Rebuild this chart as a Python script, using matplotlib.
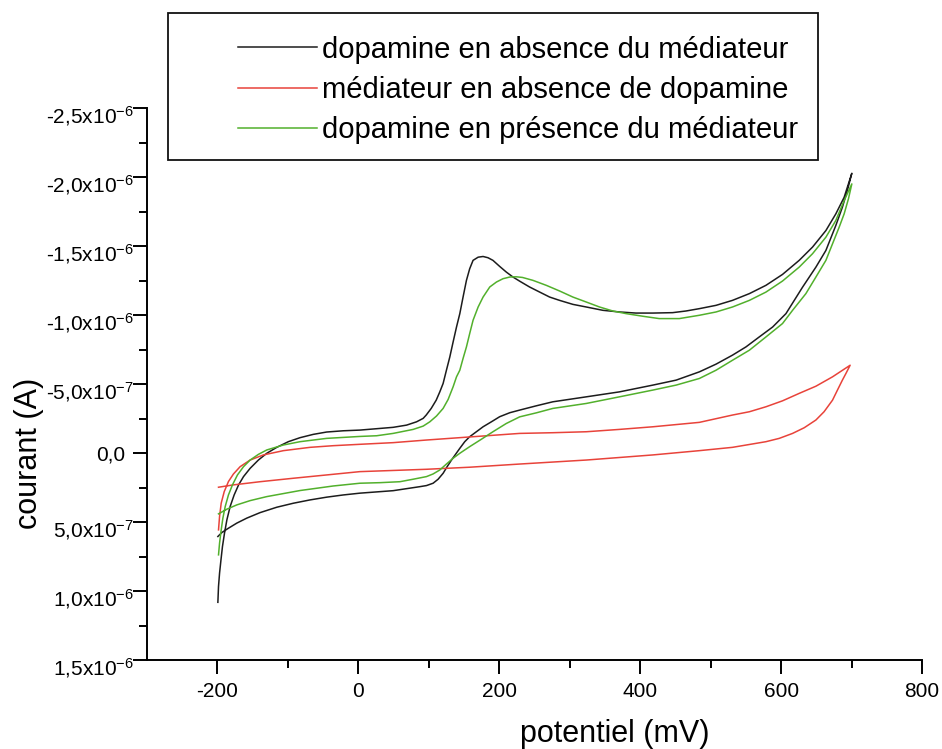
import numpy as np
import matplotlib
matplotlib.use("Agg")
import matplotlib.pyplot as plt
from matplotlib.patches import Rectangle
from matplotlib.transforms import ScaledTranslation

plt.rcParams['font.family'] = ['Liberation Sans', 'DejaVu Sans']
plt.rcParams['mathtext.fontset'] = 'custom'
plt.rcParams['mathtext.rm'] = 'Liberation Sans'
plt.rcParams['mathtext.it'] = 'Liberation Sans:italic'
plt.rcParams['mathtext.bf'] = 'Liberation Sans:bold'

# Cyclic voltammograms: potential in mV, current in µA (plotted in A)
labels = ["dopamine en absence du médiateur",
          "médiateur en absence de dopamine",
          "dopamine en présence du médiateur"]
colors = ["#1c1c1c", "#e8433a", "#52b02c"]

# dopamine without mediator: forward (anodic) scan
black_fwd_E = [-199.4, -198.5, -197, -195, -192.9, -190, -186.6, -182, -176.3, -170,
               -163, -153.6, -141.9, -130, -115.8, -99.4, -82.8, -64, -45, -21.4, 2.2,
               25.9, 49.4, 68.4, 82.6, 92, 96.3, 103.4, 110.5, 115.6, 120.3, 125, 129.8,
               134.5, 139.3, 144, 148.6, 153.4, 158, 162.8, 170, 177, 184, 191, 200.6,
               210, 219.5, 229, 243, 257, 271.5, 285.6, 304.5, 323.5, 347, 370.6, 394,
               418, 446, 465, 484, 507.7, 531, 555, 578.5, 602, 625.7, 644.6, 663.6,
               677.7, 689.5, 700.4]
black_fwd_I = [1.082, 0.967, 0.870, 0.774, 0.678, 0.581, 0.484, 0.388, 0.304, 0.231,
               0.171, 0.111, 0.051, 0.002, -0.041, -0.082, -0.111, -0.135, -0.152,
               -0.161, -0.166, -0.176, -0.186, -0.202, -0.226, -0.251, -0.275, -0.323,
               -0.383, -0.443, -0.504, -0.600, -0.696, -0.805, -0.913, -1.010, -1.130,
               -1.251, -1.335, -1.396, -1.419, -1.424, -1.415, -1.396, -1.352, -1.311,
               -1.275, -1.245, -1.203, -1.167, -1.130, -1.106, -1.077, -1.058, -1.034,
               -1.022, -1.014, -1.014, -1.017, -1.029, -1.046, -1.070, -1.106, -1.155,
               -1.215, -1.294, -1.396, -1.492, -1.612, -1.733, -1.853, -2.027]
# dopamine without mediator: reverse scan
black_rev_E = [694, 687, 677.7, 663.6, 649.4, 630.5, 606.9, 588, 569, 550.2, 531,
               507.7, 484, 451, 418, 370.6, 323.5, 276, 252.6, 229, 215, 200.6, 188.8,
               177, 167.5, 158, 151, 144, 138.3, 132.2, 126, 120.3, 113.2, 106.1, 96.7,
               87.2, 49.4, 2.2, -21.4, -45, -68.6, -92.3, -115.8, -139.5, -158.4,
               -172.5, -184.4, -193.7, -199.4]
black_rev_I = [-1.902, -1.781, -1.649, -1.468, -1.347, -1.202, -1.010, -0.913, -0.841,
               -0.769, -0.709, -0.644, -0.588, -0.528, -0.492, -0.443, -0.407, -0.371,
               -0.342, -0.311, -0.292, -0.263, -0.226, -0.190, -0.154, -0.118, -0.082,
               -0.034, 0.007, 0.051, 0.099, 0.147, 0.190, 0.219, 0.236, 0.244, 0.273,
               0.291, 0.304, 0.320, 0.340, 0.364, 0.393, 0.432, 0.472, 0.508, 0.545,
               0.576, 0.605]

# mediator without dopamine
red_fwd_E = [-198.5, -197, -194.7, -190.4, -184.4, -177.3, -167.8, -153.6, -134.8,
             -106.4, -68.6, -35.6, 2.2, 49.4, 96.7, 162.8, 229, 276, 323.5, 370.6, 418,
             484, 531, 555, 578.5, 602, 625.7, 649.4, 673, 698]
red_fwd_I = [0.557, 0.460, 0.364, 0.280, 0.207, 0.152, 0.099, 0.051, 0.014, -0.017,
             -0.041, -0.053, -0.063, -0.075, -0.094, -0.118, -0.142, -0.147, -0.154,
             -0.171, -0.190, -0.222, -0.275, -0.299, -0.335, -0.378, -0.432, -0.484,
             -0.552, -0.636]
red_rev_E = [692, 687, 680, 673, 661, 649.4, 632.8, 616.3, 597.4, 578.5, 531, 484, 418,
             323.5, 229, 158, 96.7, 2.2, -45, -92.3, -139.5, -177.3, -198.5]
red_rev_I = [-0.576, -0.528, -0.456, -0.383, -0.299, -0.239, -0.183, -0.142, -0.106,
             -0.082, -0.041, -0.017, 0.014, 0.051, 0.080, 0.103, 0.118, 0.135, 0.159,
             0.183, 0.208, 0.231, 0.248]

# dopamine with mediator
green_fwd_E = [-198.5, -197, -195, -192.3, -189, -184.4, -178.7, -171.6, -163, -153.6,
               -141.9, -130, -106.4, -82.8, -45, 2.2, 25.9, 49.4, 77.8, 92, 101.4,
               110.9, 120.3, 127.4, 134.5, 139.3, 144, 148.6, 153.4, 158, 162.8, 170,
               177, 186.5, 196, 205.3, 214.8, 224, 233, 247.8, 266.7, 285.6, 304.5,
               323.5, 342.3, 361.2, 380, 403.7, 427, 455.5, 484, 507.7, 531, 555, 578.5,
               602, 625.7, 644.6, 663.6, 677.7, 689.5, 700.4]
green_fwd_I = [0.738, 0.653, 0.569, 0.472, 0.388, 0.304, 0.231, 0.159, 0.099, 0.051,
               0.010, -0.022, -0.058, -0.082, -0.106, -0.120, -0.125, -0.142, -0.171,
               -0.195, -0.226, -0.268, -0.323, -0.388, -0.480, -0.552, -0.600, -0.685,
               -0.769, -0.865, -0.962, -1.058, -1.130, -1.203, -1.239, -1.263, -1.275,
               -1.277, -1.272, -1.251, -1.215, -1.174, -1.130, -1.094, -1.058, -1.029,
               -1.010, -0.991, -0.974, -0.974, -0.998, -1.022, -1.058, -1.106, -1.166,
               -1.246, -1.347, -1.444, -1.564, -1.685, -1.829, -1.950]
green_rev_E = [695.6, 689.5, 682.4, 673, 663.6, 649.4, 635.2, 616.3, 602, 578.5, 555,
               531, 507.7, 484, 451, 418, 370.6, 323.5, 276, 252.6, 229, 210, 191, 174.4,
               158, 144, 134.5, 125, 115.6, 106, 96.7, 77.8, 59, 30.6, 2.2, -35.6,
               -82.8, -130, -153.6, -172.5, -186.6, -198.5]
green_rev_I = [-1.842, -1.733, -1.636, -1.516, -1.396, -1.275, -1.155, -1.034, -0.938,
               -0.841, -0.745, -0.672, -0.600, -0.540, -0.492, -0.456, -0.407, -0.359,
               -0.323, -0.291, -0.262, -0.214, -0.154, -0.099, -0.046, 0.002, 0.038,
               0.080, 0.123, 0.152, 0.171, 0.190, 0.208, 0.215, 0.219, 0.239, 0.272,
               0.316, 0.345, 0.376, 0.407, 0.441]

x_ticks = [-200, 0, 200, 400, 600, 800]
x_tick_labels = ["-200", "0", "200", "400", "600", "800"]
x_minor = [-100, 100, 300, 500, 700]
y_ticks = [-2.5e-6, -2.0e-6, -1.5e-6, -1.0e-6, -5.0e-7, 0.0, 5.0e-7, 1.0e-6, 1.5e-6]
y_tick_labels = ["-2,5x$10^{-6}$", "-2,0x$10^{-6}$", "-1,5x$10^{-6}$", "-1,0x$10^{-6}$",
                 "-5,0x$10^{-7}$", "0,0", "5,0x$10^{-7}$", "1,0x$10^{-6}$",
                 "1,5x$10^{-6}$"]
y_minor = [-2.25e-6, -1.75e-6, -1.25e-6, -0.75e-6, -0.25e-6, 0.25e-6, 0.75e-6, 1.25e-6]

W, H = 942, 749
fig = plt.figure(figsize=(W / 100, H / 100), dpi=100)
fig.patch.set_facecolor("white")
ax = fig.add_axes([147 / W, 1 - 660 / H, (922 - 147) / W, (660 - 108) / H])

series = [
    (black_fwd_E + black_rev_E, black_fwd_I + black_rev_I),
    (red_fwd_E + red_rev_E, red_fwd_I + red_rev_I),
    (green_fwd_E + green_rev_E, green_fwd_I + green_rev_I),
]
handles = []
for (E, I), c, lab in zip(series, colors, labels):
    h, = ax.plot(E, np.array(I) * 1e-6, color=c, lw=1.1, label=lab,
                 solid_joinstyle="round")
    handles.append(h)

ax.set_xlim(-300, 800)
ax.set_ylim(1.5e-6, -2.5e-6)
for s in ("top", "right"):
    ax.spines[s].set_visible(False)
for s in ("left", "bottom"):
    ax.spines[s].set_linewidth(1.4)

ax.set_xticks(x_ticks)
ax.set_xticklabels(x_tick_labels)
ax.set_xticks(x_minor, minor=True)
ax.set_yticks(y_ticks)
ax.set_yticklabels(y_tick_labels)
ax.set_yticks(y_minor, minor=True)
ax.tick_params(which="major", direction="out", length=10, width=1.4, labelsize=15)
ax.tick_params(which="minor", direction="out", length=6, width=1.4)
ax.tick_params(axis="x", pad=6)
ax.tick_params(axis="y", pad=5.5)

# labels with an exponent: mantissa below the tick, exponent reaching the tick
shift = ScaledTranslation(6 / 72, -4 / 72, fig.dpi_scale_trans)
for lbl in ax.get_yticklabels():
    if "$" in lbl.get_text():
        lbl.set_transform(lbl.get_transform() + shift)

ax.set_xlabel("potentiel (mV)", fontsize=22)
ax.xaxis.set_label_coords(0.603, -0.106)
ax.set_ylabel("courant (A)", fontsize=22)
ax.yaxis.set_label_coords(-0.133, 0.374)

# legend box
box = Rectangle((168 / W, 1 - 160 / H), (818 - 168) / W, (160 - 13) / H,
                transform=fig.transFigure, facecolor="white", edgecolor="#111111",
                lw=1.3, zorder=3)
fig.patches.append(box)
fig.legend(handles, labels, loc="center left", bbox_to_anchor=(238 / W, 1 - 90 / H),
           frameon=False, fontsize=21.1, handlelength=2.7, handletextpad=0.17,
           labelspacing=0.42, borderpad=0, borderaxespad=0)

fig.savefig("out.png", dpi=100, facecolor="white")
